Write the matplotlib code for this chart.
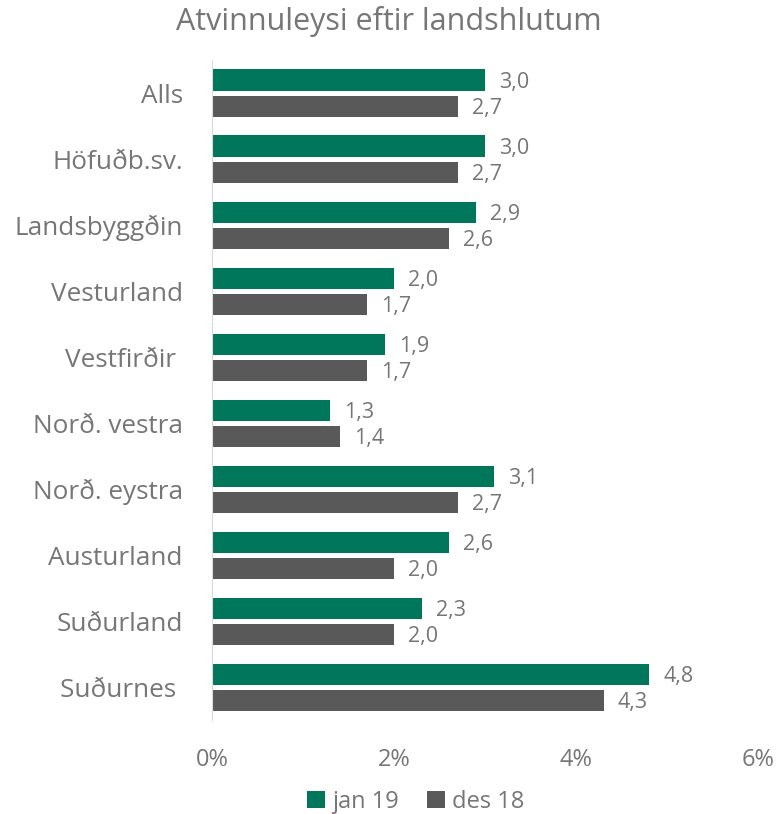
import matplotlib.pyplot as plt
import numpy as np

plt.rcParams['font.family'] = ['Open Sans', 'DejaVu Sans']

regions = ['Alls', 'Höfuðb.sv.', 'Landsbyggðin', 'Vesturland', 'Vestfirðir ',
           'Norð. vestra', 'Norð. eystra', 'Austurland', 'Suðurland', 'Suðurnes ']
jan19 = [3.0, 3.0, 2.9, 2.0, 1.9, 1.3, 3.1, 2.6, 2.3, 4.8]
des18 = [2.7, 2.7, 2.6, 1.7, 1.7, 1.4, 2.7, 2.0, 2.0, 4.3]

green = '#00765A'
grey = '#595959'
txt = '#767676'

fig = plt.figure(figsize=(7.77, 8.14), dpi=100)
ax = fig.add_axes([0.273, 0.115, 0.703, 0.811])

y = np.arange(len(regions))
h = 0.32
b1 = ax.barh(y - 0.2, jan19, height=h, color=green, label='jan 19')
b2 = ax.barh(y + 0.2, des18, height=h, color=grey, label='des 18')

for bars, vals in ((b1, jan19), (b2, des18)):
    for bar, v in zip(bars, vals):
        ax.annotate(f'{v:.1f}'.replace('.', ','),
                    (v, bar.get_y() + bar.get_height() / 2 + 0.03),
                    xytext=(14, 0), textcoords='offset pixels',
                    va='center', ha='left', fontsize=15.5, color=txt)

ax.set_xlim(0, 6)
ax.set_ylim(9.5, -0.5)
ax.set_xticks([0, 2, 4, 6])
ax.set_xticklabels(['0%', '2%', '4%', '6%'])
ax.set_yticks(y)
ax.set_yticklabels(regions, fontsize=18.8)
ax.tick_params(axis='both', length=0, colors=txt)
ax.tick_params(axis='x', labelsize=17, pad=20)
ax.tick_params(axis='y', pad=21)
for s in ['top', 'right', 'bottom']:
    ax.spines[s].set_visible(False)
ax.spines['left'].set_color('#D9D9D9')

fig.suptitle('Atvinnuleysi eftir landshlutum', x=0.5, y=0.993, fontsize=22, color=txt)

fig.legend(loc='lower center', bbox_to_anchor=(0.535, -0.026), ncol=2, frameon=False,
           fontsize=17, handlelength=0.75, handleheight=0.75, handletextpad=0.3,
           columnspacing=1.2, labelcolor=txt)

plt.savefig('out.png', dpi=100)
